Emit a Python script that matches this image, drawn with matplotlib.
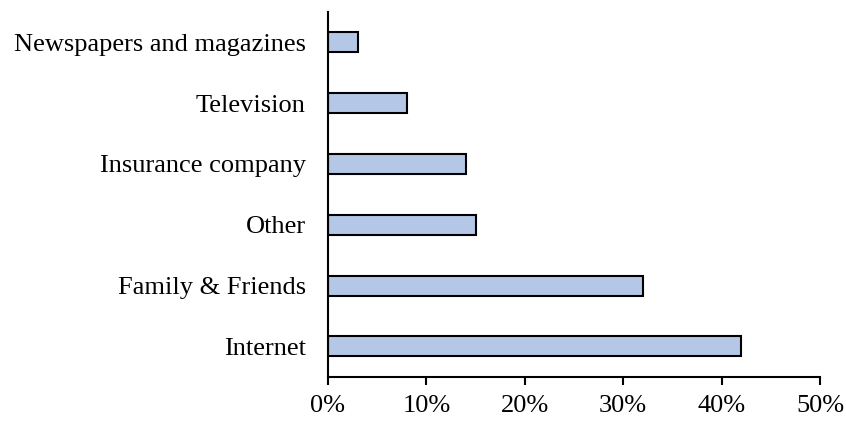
import numpy as np
import matplotlib.pyplot as plt
from matplotlib.ticker import PercentFormatter

plt.rcParams['font.family'] = ['Liberation Serif', 'DejaVu Serif']

# Sources of information, bottom to top
sources = ["Internet", "Family & Friends", "Other", "Insurance company",
           "Television", "Newspapers and magazines"]
shares = [42, 32, 15, 14, 8, 3]

fig = plt.figure(figsize=(8.46, 4.21), dpi=100)
ax = fig.add_axes([0.3877, 0.105, 0.5816, 0.8665])

ypos = np.arange(len(sources))
ax.barh(ypos, shares, height=0.33, color="#B4C7E7", edgecolor="black", linewidth=1.5)

ax.set_xlim(0, 50)
ax.set_ylim(-0.5, len(sources) - 0.5)
ax.set_xticks(np.arange(0, 51, 10))
ax.xaxis.set_major_formatter(PercentFormatter(decimals=0))
ax.set_yticks(ypos)
ax.set_yticklabels(sources)

for side in ("top", "right"):
    ax.spines[side].set_visible(False)
ax.spines["left"].set_linewidth(1.5)
ax.spines["bottom"].set_linewidth(1.5)
ax.tick_params(axis="y", length=0, pad=16, labelsize=19)
ax.tick_params(axis="x", length=6, width=1.5, direction="out", pad=7, labelsize=19)

fig.savefig("out.png")
